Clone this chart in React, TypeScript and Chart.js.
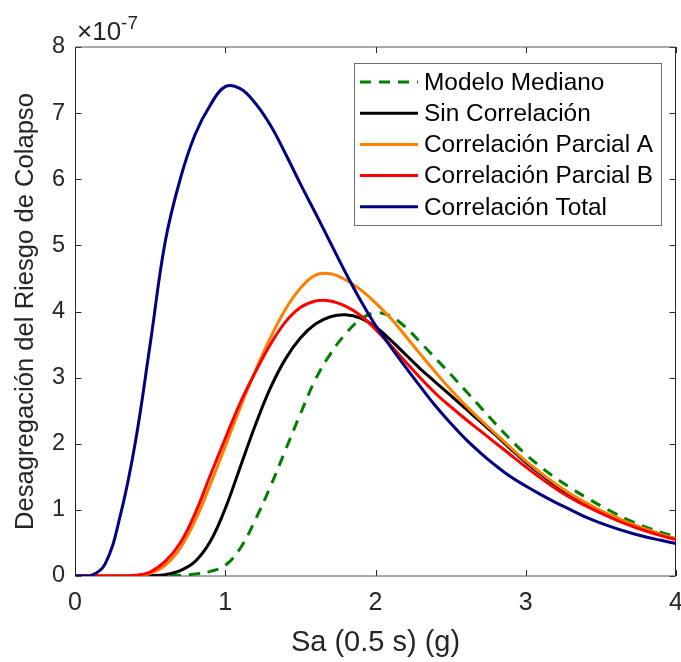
import React, { useEffect, useRef } from "react";
import { Chart, registerables } from "chart.js";

Chart.register(...registerables);

// ---- data (values in units of 10^-7) ----
const sa = [
  0, 0.1, 0.2, 0.3, 0.4, 0.5, 0.6, 0.7, 0.8, 0.9,
  1.0, 1.1, 1.2, 1.3, 1.4, 1.5, 1.6, 1.7, 1.8, 1.9,
  2.0, 2.1, 2.2, 2.3, 2.4, 2.5, 2.6, 2.7, 2.8, 2.9,
  3.0, 3.1, 3.2, 3.3, 3.4, 3.5, 3.6, 3.7, 3.8, 3.9, 4.0,
];

const modeloMediano = [
  0, 0, 0, 0, 0, 0, 0, 0.01, 0.03, 0.07,
  0.16, 0.42, 0.85, 1.35, 1.9, 2.45, 2.97, 3.36, 3.66, 3.88,
  3.98, 3.93, 3.76, 3.53, 3.29, 3.05, 2.8, 2.55, 2.3, 2.06,
  1.84, 1.65, 1.48, 1.33, 1.19, 1.06, 0.94, 0.83, 0.74, 0.66, 0.6,
];

const sinCorrelacion = [
  0, 0, 0, 0, 0, 0.005, 0.02, 0.08, 0.22, 0.52,
  1.02, 1.65, 2.28, 2.84, 3.28, 3.6, 3.81, 3.92, 3.95, 3.9,
  3.77, 3.57, 3.35, 3.13, 2.93, 2.73, 2.53, 2.33, 2.13, 1.92,
  1.72, 1.54, 1.37, 1.22, 1.09, 0.97, 0.87, 0.78, 0.7, 0.63, 0.56,
];

const parcialA = [
  0, 0, 0, 0, 0, 0.04, 0.16, 0.42, 0.84, 1.38,
  1.96, 2.55, 3.1, 3.6, 4.03, 4.35, 4.55, 4.57, 4.48, 4.33,
  4.13, 3.9, 3.63, 3.35, 3.08, 2.82, 2.58, 2.36, 2.15, 1.94,
  1.74, 1.56, 1.39, 1.24, 1.11, 0.99, 0.89, 0.79, 0.71, 0.63, 0.56,
];

const parcialB = [
  0, 0, 0, 0, 0.01, 0.06, 0.22, 0.5, 0.95, 1.52,
  2.08, 2.62, 3.08, 3.5, 3.84, 4.06, 4.16, 4.16, 4.08, 3.94,
  3.73, 3.49, 3.24, 2.99, 2.76, 2.56, 2.37, 2.19, 2.01, 1.83,
  1.65, 1.48, 1.32, 1.18, 1.06, 0.95, 0.85, 0.76, 0.68, 0.61, 0.55,
];

const correlacionTotal = [
  0, 0, 0.18, 0.9, 2.0, 3.5, 5.05, 6.0, 6.68, 7.12,
  7.4, 7.37, 7.15, 6.82, 6.39, 5.93, 5.49, 5.04, 4.59, 4.17,
  3.79, 3.47, 3.16, 2.86, 2.57, 2.31, 2.07, 1.86, 1.67, 1.5,
  1.36, 1.23, 1.11, 1.0, 0.89, 0.8, 0.72, 0.65, 0.59, 0.54, 0.49,
];

const seriesLabels = [
  "Modelo Mediano",
  "Sin Correlación",
  "Correlación Parcial A",
  "Correlación Parcial B",
  "Correlación Total",
];
const seriesColors = ["#008000", "#000000", "#FF8000", "#FF0000", "#000080"];
const xTicks = [0, 1, 2, 3, 4];
const yTicks = [0, 1, 2, 3, 4, 5, 6, 7, 8];
const xTitle = "Sa (0.5 s) (g)";
const yTitle = "Desagregación del Riesgo de Colapso";
const multiplierBase = "×10";
const multiplierExp = "-7";

const FONT = "'Liberation Sans', Arial, Helvetica, sans-serif";
const AXIS_COLOR = "#262626";

const framePlugin = {
  id: "matlabFrame",
  beforeDatasetsDraw(chart: any) {
    const { ctx, chartArea, scales } = chart;
    const { left, right, top, bottom } = chartArea;
    const x = scales.x;
    const y = scales.y;
    const tl = 6;
    ctx.save();
    ctx.strokeStyle = AXIS_COLOR;
    ctx.lineWidth = 1;
    const L = Math.round(left) + 0.5;
    const R = Math.round(right) - 0.5;
    const T = Math.round(top);
    const B = Math.round(bottom);
    ctx.beginPath();
    xTicks.forEach((v) => {
      const px = Math.round(x.getPixelForValue(v)) + 0.5;
      ctx.moveTo(px, B);
      ctx.lineTo(px, B - tl);
      ctx.moveTo(px, T);
      ctx.lineTo(px, T + tl);
    });
    yTicks.forEach((v) => {
      const py = Math.round(y.getPixelForValue(v)) + 0.5;
      ctx.moveTo(L, py);
      ctx.lineTo(L + tl, py);
      ctx.moveTo(R, py);
      ctx.lineTo(R - tl, py);
    });
    ctx.stroke();
    ctx.beginPath();
    ctx.moveTo(L, T);
    ctx.lineTo(L, B);
    ctx.moveTo(R, T);
    ctx.lineTo(R, B);
    ctx.stroke();
    ctx.strokeStyle = "#555555";
    ctx.beginPath();
    ctx.moveTo(L, T);
    ctx.lineTo(R, T);
    ctx.moveTo(L, B);
    ctx.lineTo(R, B);
    ctx.stroke();
    ctx.restore();
  },
  afterDraw(chart: any) {
    const { ctx, chartArea } = chart;
    ctx.save();
    ctx.fillStyle = AXIS_COLOR;
    ctx.textBaseline = "alphabetic";
    ctx.textAlign = "left";
    ctx.font = `26px ${FONT}`;
    const bx = chartArea.left + 2;
    ctx.fillText(multiplierBase, bx, 39.5);
    const w = ctx.measureText(multiplierBase).width;
    ctx.font = `19px ${FONT}`;
    ctx.fillText(multiplierExp, bx + w, 29);

    const lx = 354.5;
    const ly = 63.5;
    const lw = 307;
    const lh = 162;
    ctx.fillStyle = "#ffffff";
    ctx.fillRect(lx, ly, lw, lh);
    ctx.strokeStyle = "#6e6e6e";
    ctx.lineWidth = 1;
    ctx.strokeRect(lx, ly, lw, lh);
    const ds = chart.data.datasets;
    const rowH = 31.2;
    ds.forEach((d: any, i: number) => {
      const cy = 82 + i * rowH;
      ctx.beginPath();
      ctx.strokeStyle = d.borderColor;
      ctx.lineWidth = 3;
      ctx.setLineDash(d.borderDash || []);
      ctx.moveTo(360, cy);
      ctx.lineTo(418, cy);
      ctx.stroke();
      ctx.setLineDash([]);
      ctx.fillStyle = "#000000";
      ctx.font = `24.4px ${FONT}`;
      ctx.textBaseline = "middle";
      ctx.fillText(d.label, 424, cy + 1);
    });
    ctx.restore();
  },
};

export default function App() {
  const canvasRef = useRef<HTMLCanvasElement | null>(null);

  useEffect(() => {
    const canvas = canvasRef.current;
    if (!canvas) return;
    const seriesData = [modeloMediano, sinCorrelacion, parcialA, parcialB, correlacionTotal];
    const datasets = seriesData.map((vals, i) => ({
      label: seriesLabels[i],
      data: sa.map((xv, j) => ({ x: xv, y: vals[j] })),
      borderColor: seriesColors[i],
      backgroundColor: seriesColors[i],
      borderWidth: 3,
      borderDash: i === 0 ? [11, 8] : [],
      pointRadius: 0,
      fill: false,
      tension: 0.4,
      order: 5 - i,
    }));

    const chart = new Chart(canvas, {
      type: "line",
      data: { datasets },
      options: {
        animation: false,
        responsive: false,
        devicePixelRatio: 1,
        layout: { padding: { left: 0, right: 5, top: 47, bottom: 0 } },
        plugins: {
          legend: { display: false },
          tooltip: { enabled: false },
          title: { display: false },
        },
        scales: {
          x: {
            type: "linear",
            min: 0,
            max: 4,
            grid: { display: false, drawTicks: false },
            border: { display: false },
            ticks: {
              stepSize: 1,
              autoSkip: false,
              maxRotation: 0,
              padding: 12,
              color: AXIS_COLOR,
              font: { family: FONT, size: 25 },
            },
            title: {
              display: true,
              text: xTitle,
              color: AXIS_COLOR,
              font: { family: FONT, size: 29 },
              padding: { top: 0, bottom: 2 },
            },
            afterFit(scale: any) {
              scale.height = 86;
              scale.paddingLeft = 0;
              scale.paddingRight = 0;
            },
          },
          y: {
            type: "linear",
            min: 0,
            max: 8,
            grid: { display: false, drawTicks: false },
            border: { display: false },
            ticks: {
              stepSize: 1,
              autoSkip: false,
              padding: 10,
              color: AXIS_COLOR,
              font: { family: FONT, size: 23.5 },
            },
            title: {
              display: true,
              text: yTitle,
              color: AXIS_COLOR,
              font: { family: FONT, size: 25.6 },
              padding: { top: 11, bottom: 0 },
            },
            afterFit(scale: any) {
              scale.width = 75;
            },
          },
        },
      },
      plugins: [framePlugin],
    });

    return () => {
      chart.destroy();
    };
  }, []);

  return (
    <div style={{ position: "fixed", left: 0, top: 0, width: 681, height: 662, background: "#ffffff" }}>
      <canvas ref={canvasRef} width={681} height={662} style={{ width: 681, height: 662, display: "block" }} />
    </div>
  );
}
